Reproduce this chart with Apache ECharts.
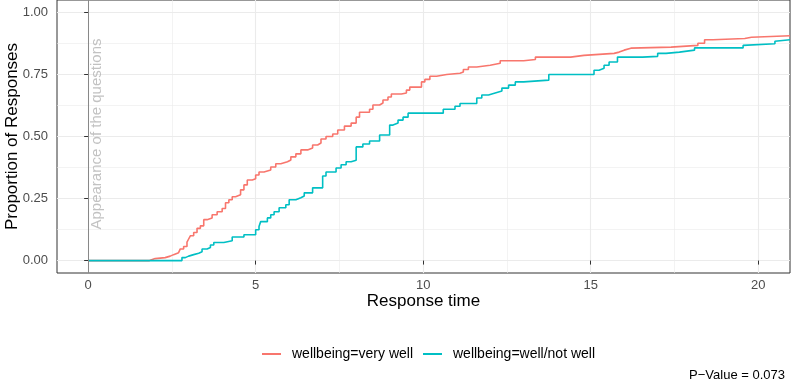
<!DOCTYPE html>
<html>
<head>
<meta charset="utf-8">
<script src="https://cdn.jsdelivr.net/npm/echarts@6/dist/echarts.min.js"></script>
<style>
  html, body { margin: 0; padding: 0; background: #fff; }
  #chart { width: 791px; height: 385px; }
</style>
</head>
<body>
<div id="chart"></div>
<script>
// cumulative proportion of responses
const veryWellTime = [0, 1.83, 2.0, 2.3, 2.45, 2.55, 2.7, 2.75, 2.85, 2.95, 3.0, 3.05, 3.15, 3.25, 3.35, 3.45, 3.55, 3.7, 3.85, 4.0,
  4.1, 4.2, 4.3, 4.4, 4.55, 4.65, 4.75, 4.9, 5.0, 5.1, 5.25, 5.45, 5.6, 5.75, 5.95, 6.05, 6.2, 6.35, 6.55, 6.7,
  6.85, 6.95, 7.1, 7.3, 7.45, 7.65, 7.85, 8.0, 8.1, 8.4, 8.5, 8.7, 8.8, 8.95, 9.05, 9.35, 9.5, 9.6, 9.95, 10.05,
  10.2, 10.4, 10.7, 11.1, 11.2, 11.35, 11.6, 12.0, 12.3, 13.0, 13.35, 14.4, 14.8, 15.7, 15.85, 16.0, 16.2, 17.4, 18.2, 18.4,
  18.65, 19.6, 19.8, 20.95];
const veryWellProp = [0, 0.008, 0.012, 0.018, 0.024, 0.032, 0.036, 0.047, 0.057, 0.074, 0.087, 0.10, 0.113, 0.13, 0.14, 0.165, 0.172, 0.185, 0.197, 0.21,
  0.233, 0.245, 0.257, 0.265, 0.285, 0.305, 0.325, 0.33, 0.345, 0.357, 0.365, 0.377, 0.39, 0.398, 0.405, 0.418, 0.43, 0.446, 0.454, 0.466,
  0.474, 0.49, 0.5, 0.51, 0.526, 0.542, 0.554, 0.578, 0.598, 0.61, 0.627, 0.635, 0.647, 0.659, 0.671, 0.675, 0.687, 0.699, 0.72, 0.73,
  0.743, 0.75, 0.755, 0.76, 0.77, 0.78, 0.787, 0.795, 0.805, 0.81, 0.82, 0.827, 0.835, 0.84, 0.848, 0.856, 0.86, 0.867, 0.876, 0.89,
  0.895, 0.90, 0.906, 0.906];

const wellTime = [0, 2.8, 2.9, 3.0, 3.15, 3.3, 3.4, 3.55, 3.65, 3.75, 4.05, 4.3, 4.65, 5.0, 5.1, 5.15, 5.35, 5.45, 5.55, 5.7,
  5.9, 6.0, 6.2, 6.35, 6.45, 6.7, 7.0, 7.1, 7.4, 7.55, 7.7, 7.85, 8.0, 8.2, 8.4, 8.7, 9.0, 9.1, 9.25, 9.4,
  9.55, 10.6, 10.95, 11.1, 11.6, 11.75, 11.95, 12.15, 12.35, 12.55, 12.75, 13.0, 13.75, 15.1, 15.25, 15.4, 15.55, 15.8, 16.55, 17.0,
  17.25, 17.65, 18.1, 19.55, 19.6, 20.5, 20.55, 20.95];
const wellProp = [0, 0.012, 0.018, 0.024, 0.03, 0.036, 0.047, 0.053, 0.063, 0.073, 0.08, 0.095, 0.104, 0.124, 0.137, 0.157, 0.172, 0.185, 0.197, 0.213,
  0.225, 0.245, 0.253, 0.26, 0.273, 0.293, 0.341, 0.357, 0.373, 0.386, 0.398, 0.404, 0.458, 0.47, 0.482, 0.506, 0.546, 0.554, 0.566, 0.578,
  0.594, 0.61, 0.622, 0.633, 0.655, 0.667, 0.675, 0.683, 0.695, 0.707, 0.72, 0.727, 0.75, 0.767, 0.775, 0.787, 0.80, 0.82, 0.823, 0.835,
  0.84, 0.848, 0.857, 0.867, 0.874, 0.884, 0.89, 0.89];

const seriesNames = ["wellbeing=very well", "wellbeing=well/not well"];
const xTicks = [0, 5, 10, 15, 20];
const xMinor = [2.5, 7.5, 12.5, 17.5];
const yTicks = [0, 0.25, 0.5, 0.75, 1];
const yMinor = [0.125, 0.375, 0.625, 0.875];
const annotation = { x: 0.27, y: 0.51, text: "Appearance of the questions" };
const pValueText = "P\u2212Value = 0.073";

const xMin = -0.93, xMax = 20.95;
const yMin = -0.05, yMax = 1.05;

const FONT = "'Liberation Sans', Arial, sans-serif";
const gridCol = "#ebebeb";

function zip(xs, ys) {
  return xs.map((x, i) => [x, ys[i]]);
}

const chart = echarts.init(document.getElementById("chart"));

const minorAxis = (extra) => Object.assign({
  type: "value",
  gridIndex: 0,
  axisLine: { show: false },
  axisLabel: { show: false },
  splitLine: { show: true, lineStyle: { color: gridCol, width: 0.6 } },
}, extra);

chart.setOption({
  animation: false,
  textStyle: { fontFamily: FONT },
  title: {
    text: pValueText,
    right: 6,
    top: 369,
    padding: 0,
    textStyle: { fontSize: 13, fontWeight: "normal", color: "#000", fontFamily: FONT },
  },
  legend: {
    data: seriesNames,
    top: 342,
    left: 257,
    icon: "rect",
    itemWidth: 19,
    itemHeight: 2,
    itemGap: 10,
    textStyle: { fontSize: 14, color: "#000", padding: [0, 0, 0, 6] },
  },
  grid: {
    left: 57, right: 1, top: 0, bottom: 112,
    outerBoundsMode: "none",
    containLabel: false,
    show: true, borderColor: "#333", borderWidth: 1,
  },
  xAxis: [
    {
      type: "value",
      min: xMin, max: xMax,
      name: "Response time",
      nameLocation: "middle",
      nameGap: 20,
      nameMoveOverlap: false,
      nameTextStyle: { fontSize: 17, color: "#000" },
      axisLine: { show: false },
      axisTick: { show: true, customValues: xTicks, length: 4, lineStyle: { color: "#333" } },
      axisLabel: { customValues: xTicks, margin: 6, fontSize: 13, color: "#4d4d4d" },
      splitLine: { show: true, lineStyle: { color: gridCol, width: 1.1 } },
    },
    minorAxis({ min: xMin, max: xMax, position: "bottom", axisTick: { show: false, customValues: xMinor } }),
  ],
  yAxis: [
    {
      type: "value",
      min: yMin, max: yMax,
      name: "Proportion of Responses",
      nameLocation: "middle",
      nameGap: 36,
      nameMoveOverlap: false,
      nameTextStyle: { fontSize: 17, color: "#000" },
      axisLine: { show: false },
      axisTick: { show: true, customValues: yTicks, length: 4, lineStyle: { color: "#333" } },
      axisLabel: { customValues: yTicks, margin: 9, fontSize: 13, color: "#4d4d4d", formatter: (v) => v.toFixed(2) },
      splitLine: { show: true, lineStyle: { color: gridCol, width: 1.1 } },
    },
    minorAxis({ min: yMin, max: yMax, position: "left", axisTick: { show: false, customValues: yMinor } }),
  ],
  series: [
    {
      name: seriesNames[0],
      type: "line",
      step: "end",
      symbol: "none",
      data: zip(veryWellTime, veryWellProp),
      lineStyle: { color: "#F8766D", width: 1.6 },
      itemStyle: { color: "#F8766D" },
      z: 3,
      markLine: {
        silent: true,
        symbol: ["none", "none"],
        label: { show: false },
        lineStyle: { color: "#888", type: "solid", width: 1 },
        data: [{ xAxis: 0 }],
      },
    },
    {
      name: seriesNames[1],
      type: "line",
      step: "end",
      symbol: "none",
      data: zip(wellTime, wellProp),
      lineStyle: { color: "#00BFC4", width: 1.6 },
      itemStyle: { color: "#00BFC4" },
      z: 4,
    },
    {
      type: "scatter",
      symbolSize: 0,
      silent: true,
      data: [[annotation.x, annotation.y]],
      label: {
        show: true,
        position: "inside",
        rotate: 90,
        formatter: annotation.text,
        fontSize: 15,
        color: "#b3b3b3",
      },
    },
  ],
});
</script>
</body>
</html>
